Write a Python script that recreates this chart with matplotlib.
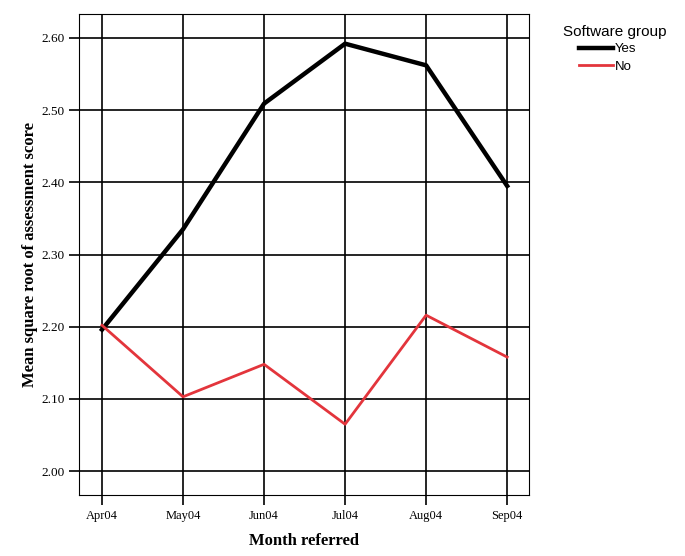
import matplotlib.pyplot as plt

months = ['Apr04', 'May04', 'Jun04', 'Jul04', 'Aug04', 'Sep04']
yes_scores = [2.196, 2.335, 2.509, 2.592, 2.562, 2.395]
no_scores = [2.202, 2.103, 2.148, 2.065, 2.216, 2.158]
y_ticks = [2.00, 2.10, 2.20, 2.30, 2.40, 2.50, 2.60]

fig = plt.figure(figsize=(6.85, 5.56), dpi=100)
ax = fig.add_axes([0.1153, 0.1097, 0.657, 0.865])

x = range(len(months))
ax.plot(x, yes_scores, color='black', linewidth=3.2, label='Yes', zorder=3)
ax.plot(x, no_scores, color='#e3353c', linewidth=2.0, label='No', zorder=3)

ax.set_xlim(-0.284, 5.27)
ax.set_ylim(1.967, 2.633)
ax.set_xticks(list(x))
ax.set_xticklabels(months, family='Liberation Serif', fontsize=9)
ax.set_yticks(y_ticks)
ax.set_yticklabels(['%.2f' % v for v in y_ticks], family='Liberation Serif', fontsize=9.5)
ax.tick_params(direction='out', length=7, width=1.2, color='black')
ax.grid(True, color='black', linewidth=1.2)
for s in ax.spines.values():
    s.set_linewidth(0.8)

ax.set_xlabel('Month referred', family='Liberation Serif', fontweight='bold', fontsize=12, labelpad=8)
ax.set_ylabel('Mean square root of assessment score', family='Liberation Serif', fontweight='bold', fontsize=12, labelpad=2)

# legend title and entries placed separately, entries are indented
fig.text(563 / 685, 1 - 32 / 556, 'Software group', family='Liberation Sans', fontsize=11, va='center', ha='left')
leg = fig.legend(loc='upper left', bbox_to_anchor=(579 / 685, 1 - 43 / 556), frameon=False,
                 prop={'family': 'Liberation Sans', 'size': 9.5}, borderpad=0, borderaxespad=0,
                 handlelength=2.6, handletextpad=0.1, labelspacing=0.4)

fig.savefig('out.png', dpi=100)
